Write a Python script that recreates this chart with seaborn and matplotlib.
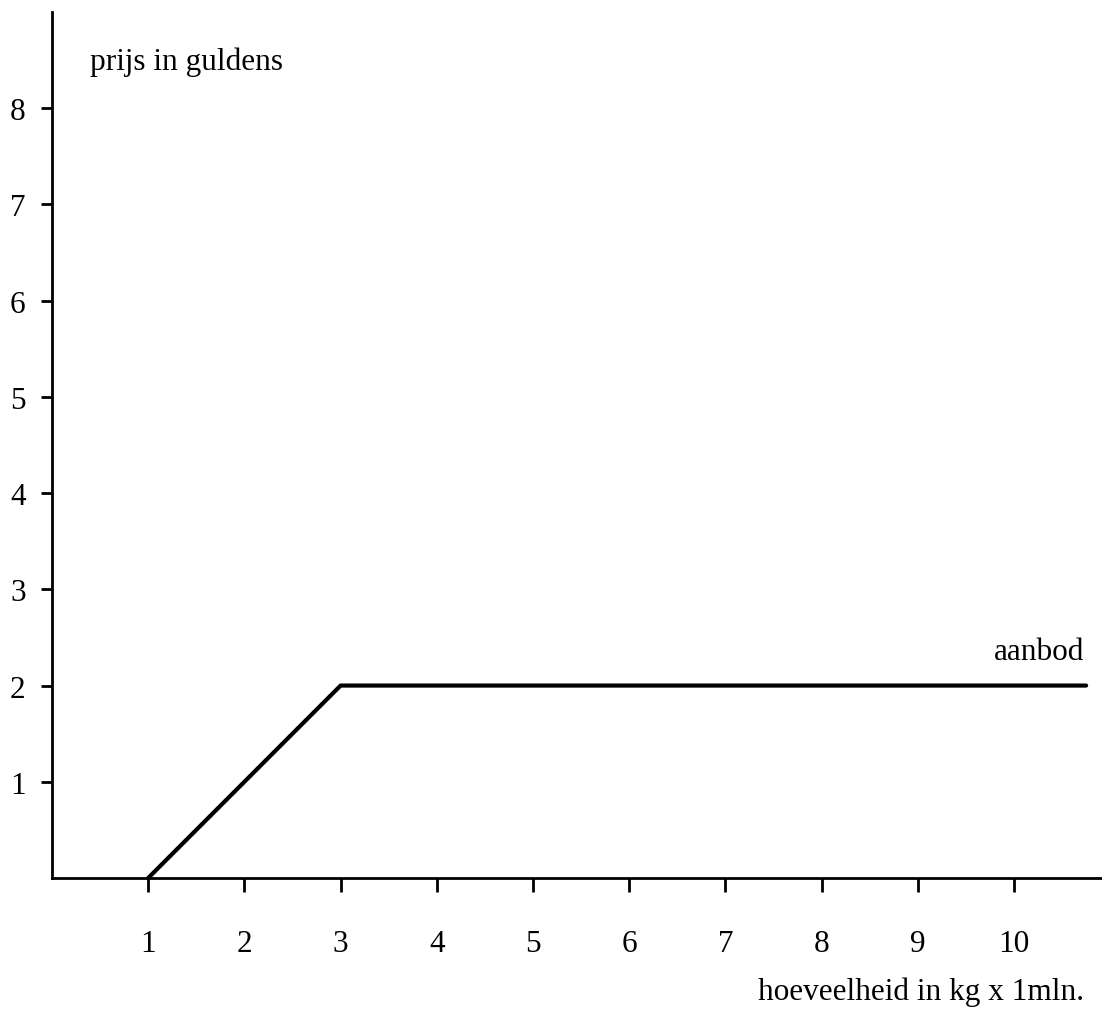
import matplotlib
matplotlib.use("Agg")
import matplotlib.pyplot as plt
import seaborn as sns
import pandas as pd

# Data
quantity = [1, 3, 10.75]
price = [0, 2, 2]
x_ticks = [1, 2, 3, 4, 5, 6, 7, 8, 9, 10]
y_ticks = [1, 2, 3, 4, 5, 6, 7, 8]
y_label = "prijs in guldens"
x_label = "hoeveelheid in kg x 1mln."
series_label = "aanbod"

sns.set_theme(style="white")
plt.rcParams['font.family'] = ['Liberation Serif', 'DejaVu Serif']

W, H = 1102, 1012
fig = plt.figure(figsize=(W / 100, H / 100), dpi=100)
left, bottom = 52 / W, (H - 879) / H
ax = fig.add_axes([left, bottom, 1 - left, (879 - 13) / H])

df = pd.DataFrame({"q": quantity, "p": price})
sns.lineplot(data=df, x="q", y="p", ax=ax, color="black", linewidth=3,
             sort=False, estimator=None)

ax.set_xlim(0, 10.915)
ax.set_ylim(0, 9.0)
ax.set_xticks(x_ticks)
ax.set_yticks(y_ticks)
ax.set_xticklabels([str(v) for v in x_ticks])
ax.set_yticklabels([str(v) for v in y_ticks])
ax.set_xlabel("")
ax.set_ylabel("")

for s in ["top", "right"]:
    ax.spines[s].set_visible(False)
for s in ["left", "bottom"]:
    ax.spines[s].set_color("black")
    ax.spines[s].set_linewidth(2)

FS = 22.5
ax.tick_params(axis="x", direction="out", length=10, width=2, color="black",
               pad=27, labelsize=FS, labelcolor="black", bottom=True)
ax.tick_params(axis="y", direction="out", length=8, width=2, color="black",
               pad=11, labelsize=FS, labelcolor="black", left=True)

ax.text(0.4, 8.41, y_label, fontsize=FS, ha="left", va="baseline", color="black")
ax.text(10.73, 2.28, series_label, fontsize=FS, ha="right", va="baseline", color="black")
ax.text(10.73, -1.26, x_label, fontsize=FS, ha="right", va="baseline",
        color="black", clip_on=False)

fig.savefig("out.png", dpi=100)
